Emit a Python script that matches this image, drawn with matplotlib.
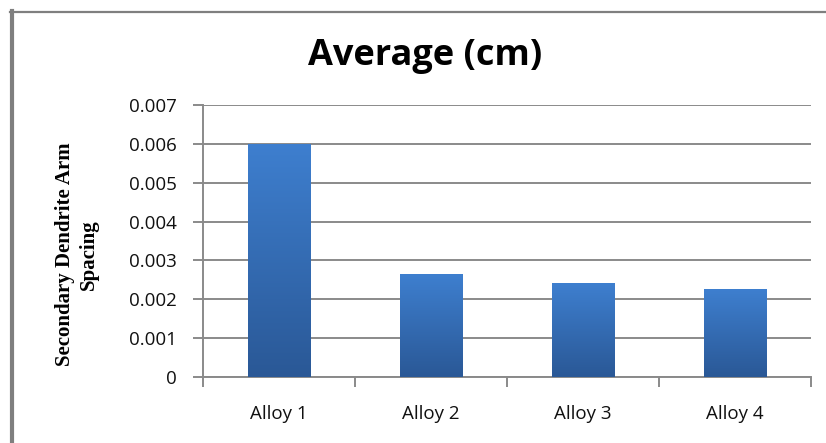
import numpy as np
import matplotlib
matplotlib.use("Agg")
import matplotlib.pyplot as plt
from matplotlib.colors import LinearSegmentedColormap

categories = ["Alloy 1", "Alloy 2", "Alloy 3", "Alloy 4"]
averages = [0.0060, 0.00265, 0.00241, 0.00226]
y_ticks = [0, 0.001, 0.002, 0.003, 0.004, 0.005, 0.006, 0.007]
y_tick_labels = ["0", "0.001", "0.002", "0.003", "0.004", "0.005", "0.006", "0.007"]

grid_grey = "#8a8a8a"

fig = plt.figure(figsize=(8.26, 4.43), dpi=100)
ax = fig.add_axes([0.2458, 0.149, 0.7360, 0.614])

x = np.arange(len(categories))
bars = ax.bar(x, averages, width=0.41, color="none", zorder=3)

# Excel-style vertical gradient inside each bar
grad = LinearSegmentedColormap.from_list("bar", ["#2a5896", "#3e7fcf"])
g = np.linspace(0, 1, 256).reshape(-1, 1)
for b in bars:
    x0, w, h = b.get_x(), b.get_width(), b.get_height()
    im = ax.imshow(g, cmap=grad, origin="lower", aspect="auto",
                   extent=(x0, x0 + w, 0, h), zorder=3)
    im.set_clip_path(b)

ax.set_xlim(-0.5, len(categories) - 0.5)
ax.set_ylim(0, 0.007)
ax.set_yticks(y_ticks)
ax.set_yticklabels(y_tick_labels)
ax.yaxis.grid(True, color=grid_grey, linewidth=1.4, zorder=0)

ax.set_xticks(x)
ax.set_xticklabels(categories)
ax.set_xticks(np.arange(len(categories) + 1) - 0.5, minor=True)
ax.tick_params(axis="x", which="major", length=0, pad=20)
ax.tick_params(axis="x", which="minor", length=7, width=1.4, color=grid_grey)
ax.tick_params(axis="y", length=7, width=1.4, color=grid_grey, pad=12)
for lbl in ax.get_xticklabels() + ax.get_yticklabels():
    lbl.set_fontfamily("Open Sans")
    lbl.set_fontsize(13.5)
    lbl.set_color("#111111")

for side in ["top", "right"]:
    ax.spines[side].set_visible(False)
for side in ["left", "bottom"]:
    ax.spines[side].set_color(grid_grey)
    ax.spines[side].set_linewidth(1.4)

ax.set_ylabel("Secondary Dendrite Arm\nSpacing", family="Liberation Serif",
              fontweight="bold", fontsize=15, linespacing=1.25)
ax.yaxis.set_label_coords(-0.172, 0.45)

fig.text(0.515, 0.873, "Average (cm)", ha="center", va="center",
         family="Open Sans", fontweight="bold", fontsize=26)

# outer frame: thick left edge and thin top edge
fig.add_artist(plt.Line2D([12 / 826, 12 / 826], [0, 1 - 11 / 443],
                          transform=fig.transFigure, color="#7f7f7f", linewidth=3))
fig.add_artist(plt.Line2D([10 / 826, 1], [1 - 12 / 443, 1 - 12 / 443],
                          transform=fig.transFigure, color="#7f7f7f", linewidth=1.6))

fig.savefig("out.png", dpi=100)
